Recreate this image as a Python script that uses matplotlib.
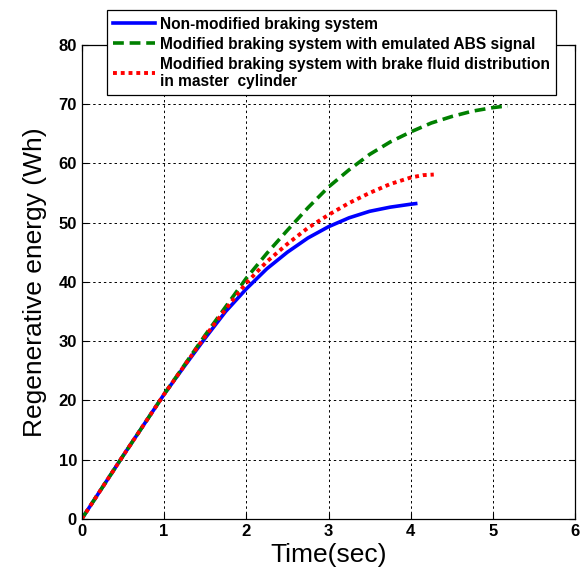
import numpy as np
import matplotlib
matplotlib.use("Agg")
from matplotlib import pyplot as plt

# time (sec) and regenerative energy (Wh)
t_blue = [0, 0.25, 0.5, 0.75, 1, 1.25, 1.5, 1.75, 2, 2.25, 2.5, 2.75, 3, 3.25, 3.5, 3.75, 4, 4.06]
e_blue = [0, 5.3, 10.6, 15.8, 21, 25.8, 30.5, 35, 38.8, 42.2, 45.0, 47.4, 49.3, 50.8, 51.9, 52.6, 53.1, 53.2]

t_green = [0, 0.25, 0.5, 0.75, 1, 1.25, 1.5, 1.75, 2, 2.25, 2.5, 2.75, 3, 3.25, 3.5, 3.75, 4,
           4.25, 4.5, 4.75, 5, 5.18]
e_green = [0, 5.3, 10.6, 15.8, 21, 26, 31, 35.8, 40.6, 44.8, 48.7, 52.5, 56.0, 58.9, 61.5, 63.6, 65.3,
           66.8, 67.9, 68.8, 69.4, 69.7]

t_red = [0, 0.25, 0.5, 0.75, 1, 1.25, 1.5, 1.75, 2, 2.25, 2.5, 2.75, 3, 3.25, 3.5, 3.75, 4, 4.15, 4.28]
e_red = [0, 5.3, 10.6, 15.8, 21, 25.9, 30.8, 35.4, 39.8, 43.4, 46.4, 49.1, 51.3, 53.3, 55.0, 56.5, 57.6, 58.0, 58.1]

labels = ["Non-modified braking system",
          "Modified braking system with emulated ABS signal",
          "Modified braking system with brake fluid distribution\nin master  cylinder"]

plt.rcParams["font.family"] = ["Liberation Sans", "DejaVu Sans"]

fig = plt.figure(figsize=(5.84, 5.74), dpi=100)
ax = fig.add_axes([0.140, 0.096, 0.845, 0.826])

ax.plot(t_blue, e_blue, color="#0000ff", linestyle="-", linewidth=2.6, label=labels[0])
ax.plot(t_green, e_green, color="#008000", linestyle=(0, (3, 1.6)), linewidth=2.6, label=labels[1])
ax.plot(t_red, e_red, color="#ff0000", linestyle=(0, (1, 1)), linewidth=2.8, label=labels[2])

ax.set_xlim(0, 6)
ax.set_ylim(0, 80)
ax.set_xticks(np.arange(0, 7, 1))
ax.set_yticks(np.arange(0, 90, 10))
ax.grid(True, color="black", linestyle=(0, (2.5, 3)), linewidth=0.7)
ax.tick_params(direction="in", labelsize=12, width=0.8, length=4, top=True, right=True)
for lbl in ax.get_xticklabels() + ax.get_yticklabels():
    lbl.set_fontweight("bold")
for s in ax.spines.values():
    s.set_linewidth(0.9)

ax.set_xlabel("Time(sec)", fontsize=19, labelpad=3)
ax.set_ylabel("Regenerative energy (Wh)", fontsize=19, labelpad=8)

leg = fig.legend(loc="upper left", bbox_to_anchor=(0.183, 0.982), fancybox=False,
                 edgecolor="black", framealpha=1, prop={"weight": "bold", "size": 11.2},
                 handlelength=2.7, handletextpad=0.3, borderpad=0.4, labelspacing=0.32,
                 borderaxespad=0)
leg.get_frame().set_linewidth(0.9)

fig.savefig("out.png", dpi=100, facecolor="white")
